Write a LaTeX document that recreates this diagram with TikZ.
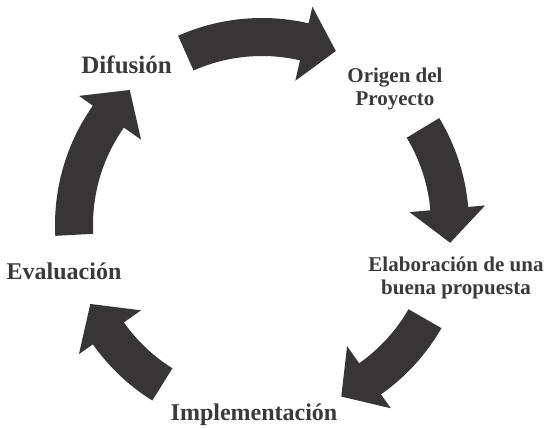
\documentclass[tikz,border=0pt]{standalone}
\usepackage{fontspec}
\setmainfont{Liberation Serif}
\definecolor{cydark}{RGB}{56,53,54}
\definecolor{cytext}{RGB}{58,58,58}
\usetikzlibrary{calc}

% curved block arrow round (c): tail angle, head base angle, tip angle
\newcommand{\cyclearrow}[3]{%
  \fill[cydark] ($(c)+(#1:207pt)$) arc[start angle=#1,end angle=#2,radius=207pt]
    -- ($(c)+(#2:224pt)$) -- ($(c)+(#3:189pt)$) -- ($(c)+(#2:148pt)$)
    -- ($(c)+(#2:169pt)$) arc[start angle=#2,end angle=#1,radius=169pt] -- cycle;}

\begin{document}
\begin{tikzpicture}[
  stage/.style={font=\fontsize{24}{28}\selectfont\bfseries,text=cytext,inner sep=0pt},
  stagetwo/.style={font=\fontsize{21}{23}\selectfont\bfseries,text=cytext,
    align=center,inner sep=0pt}
]
  \useasboundingbox (0,0) rectangle (544pt,428pt);
  \coordinate (c) at (262pt,203pt);

  % Arrows
  \cyclearrow{113.9}{77}{67}
  \cyclearrow{31.1}{5}{-5.4}
  \cyclearrow{-29.9}{-54.9}{-65.2}
  \cyclearrow{-122}{-144.8}{-155.3}
  \cyclearrow{183}{144.8}{134.4}

  % Stages
  \node[stage,font=\fontsize{25}{28}\selectfont\bfseries,anchor=base] (difusion) at (126.6pt,354.5pt) {Difusión};
  \node[stagetwo,anchor=base] (origen) at (395pt,322pt) {Origen del\\Proyecto};
  \node[stagetwo,anchor=base] (elaboracion) at (456pt,133pt) {Elaboración de una\\buena propuesta};
  \node[stage,anchor=base] (implementacion) at (254pt,7.3pt) {Implementación};
  \node[stage,anchor=base] (evaluacion) at (64pt,148pt) {Evaluación};
\end{tikzpicture}
\end{document}
